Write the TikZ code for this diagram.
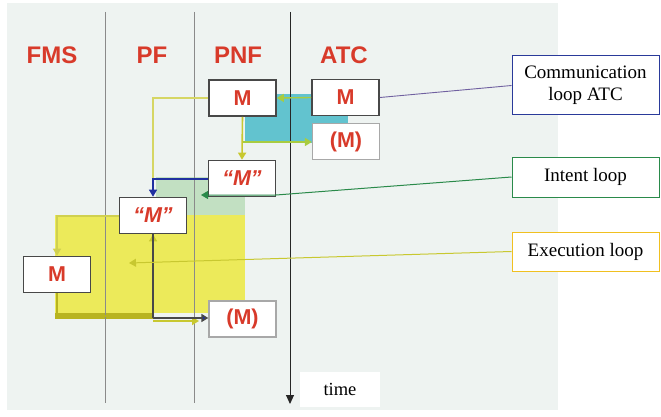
\documentclass[tikz,border=0pt]{standalone}
\usepackage{fontspec}
\setmainfont{Liberation Serif}
\setsansfont{Liberation Sans}
\usetikzlibrary{arrows.meta}

\definecolor{panel}{HTML}{EEF3F1}
\definecolor{lane}{HTML}{8A8A8A}
\definecolor{redtxt}{HTML}{D83A2A}
\definecolor{boxline}{HTML}{484848}
\definecolor{boxgray}{HTML}{A8A8A8}
\definecolor{cyanfill}{HTML}{62C3CF}
\definecolor{greenfill}{HTML}{C2E0C2}
\definecolor{yellowfill}{HTML}{ECEA5A}
\definecolor{olive}{HTML}{B8B420}
\definecolor{ylwline}{HTML}{C8C830}
\definecolor{ylgreen}{HTML}{A8CC40}
\definecolor{blueline}{HTML}{2030A0}
\definecolor{commcol}{HTML}{2A3A9A}
\definecolor{intentcol}{HTML}{2A8A4A}
\definecolor{execcol}{HTML}{F0C020}
\definecolor{purpleline}{HTML}{7060A0}

\tikzset{
  x=1pt, y=-1pt,
  header/.style={font=\sffamily\bfseries\fontsize{24}{28}\selectfont, text=redtxt},
  msgbox/.style={draw=boxline, line width=1.6pt, fill=white, minimum width=67pt,
    minimum height=36pt, inner sep=0pt, font=\sffamily\bfseries\fontsize{21.5}{24}\selectfont, text=redtxt},
  quotebox/.style={msgbox, font=\sffamily\bfseries\itshape\fontsize{21.5}{24}\selectfont},
  pendbox/.style={msgbox, draw=boxgray, line width=1.3pt},
  legend/.style={draw, line width=1pt, fill=white, minimum width=147pt, inner sep=0pt,
    align=center, font=\fontsize{19}{22}\selectfont},
  tip/.style={-{Triangle[width=8pt,length=7pt]}},
}

\begin{document}
\begin{tikzpicture}
\useasboundingbox (0,0) rectangle (661,417);

% background panel
\fill[panel] (7,3) rectangle (558,410);

% loop areas
\fill[cyanfill] (245,94) rectangle (348,143);
\fill[greenfill] (156,177) rectangle (245,218);
\fill[yellowfill] (55,215) rectangle (245,313);
\fill[olive] (55,313) rectangle (153,319);

% swim-lane separators and time axis
\draw[lane, line width=0.8pt] (105,12) -- (105,403);
\draw[lane, line width=0.8pt] (194,12) -- (194,403);
\coordinate (ttop) at (290,12);
\coordinate (tbot) at (290,404);
\draw[line width=1pt, black!85, -{Triangle[width=8pt,length=9pt]}] (ttop) -- (tbot);
\node[fill=white, minimum width=80pt, minimum height=35pt, inner sep=0pt,
      font=\fontsize{18.5}{22}\selectfont] (time) at (340,389) {time};

% lane headings
\node[header] (hfms) at (52,55) {FMS};
\node[header] (hpf)  at (152,55) {PF};
\node[header] (hpnf) at (238,55) {PNF};
\node[header] (hatc) at (344,55) {ATC};

% helper points on the loop paths
\coordinate (branch) at (243,142);
\coordinate (pfjoin) at (153,179);
\coordinate (pftop)  at (153,98);
\coordinate (fmscorner) at (57,216);
\coordinate (fmsbottom) at (57,316);
\coordinate (pfbottom) at (153,316);
\coordinate (pfbend) at (153,318);
\coordinate (ybase) at (153,321);
\coordinate (ytip) at (199,321);
\coordinate (intentBend) at (276,195);
\coordinate (intentTip) at (201,195);
\coordinate (execTip) at (129,263);

% messages
\node[msgbox] (pnfM)  at (242.5,98) {M};
\node[msgbox] (atcM)  at (345.5,97.5) {M};
\node[pendbox] (atcMp) at (346,141.5) {(M)};
\node[quotebox] (pnfMq) at (242,178.5) {“M”};
\node[quotebox] (pfMq) at (153,215.5) {“M”};
\node[msgbox] (fmsM)  at (57,274.5) {M};
\node[pendbox] (pnfMp) at (242.5,319) {(M)};

% communication loop
\draw[ylgreen, line width=1.4pt, tip] (atcM.west) -- (pnfM.east);
\draw[ylwline, line width=1.6pt, tip] (pnfM.south) -- (pnfMq.north);
\draw[ylgreen, line width=1.6pt, tip] (branch) -- (atcMp.west |- branch);

% intent loop
\draw[ylwline!75, line width=1.1pt] (pnfM.west) -- (pftop) -- (pfjoin);
\draw[blueline, line width=1.1pt, tip] (pnfMq.west |- pfjoin) -- (pfjoin) -- (pfMq.north);

% execution loop
\draw[ylwline!85, line width=1.3pt, tip] (pfMq.west |- fmscorner) -- (fmscorner) -- (fmsM.north);
\draw[olive, line width=1.2pt] (fmsM.south) -- (fmsbottom) -- (pfbottom);
\draw[ylwline, line width=1.5pt, tip] (ybase) -- (ytip);
\draw[ylwline, line width=1.2pt, tip] (pfbottom) -- (pfMq.south);
\draw[boxline, line width=1.5pt] (pfMq.south) -- (pfbend);
\draw[boxline, line width=1.5pt, -{Triangle[width=8pt,length=7pt,fill=blueline]}] (pfbend) -- (pnfMp.west |- pfbend);

% legend
\node[legend, draw=commcol, minimum height=59pt] (comm) at (585.5,85.5) {Communication\\loop ATC};
\node[legend, draw=intentcol, minimum height=40pt] (intent) at (585.5,177) {Intent loop};
\node[legend, draw=execcol, minimum height=39pt] (exec) at (585.5,251.5) {Execution loop};

\draw[purpleline, line width=0.9pt] (comm.west) -- (atcM.east);
\draw[intentcol, line width=1pt, tip] (intent.west) -- (intentBend) -- (intentTip);
\draw[ylwline, line width=1pt, tip] (exec.west) -- (execTip);
\end{tikzpicture}
\end{document}
